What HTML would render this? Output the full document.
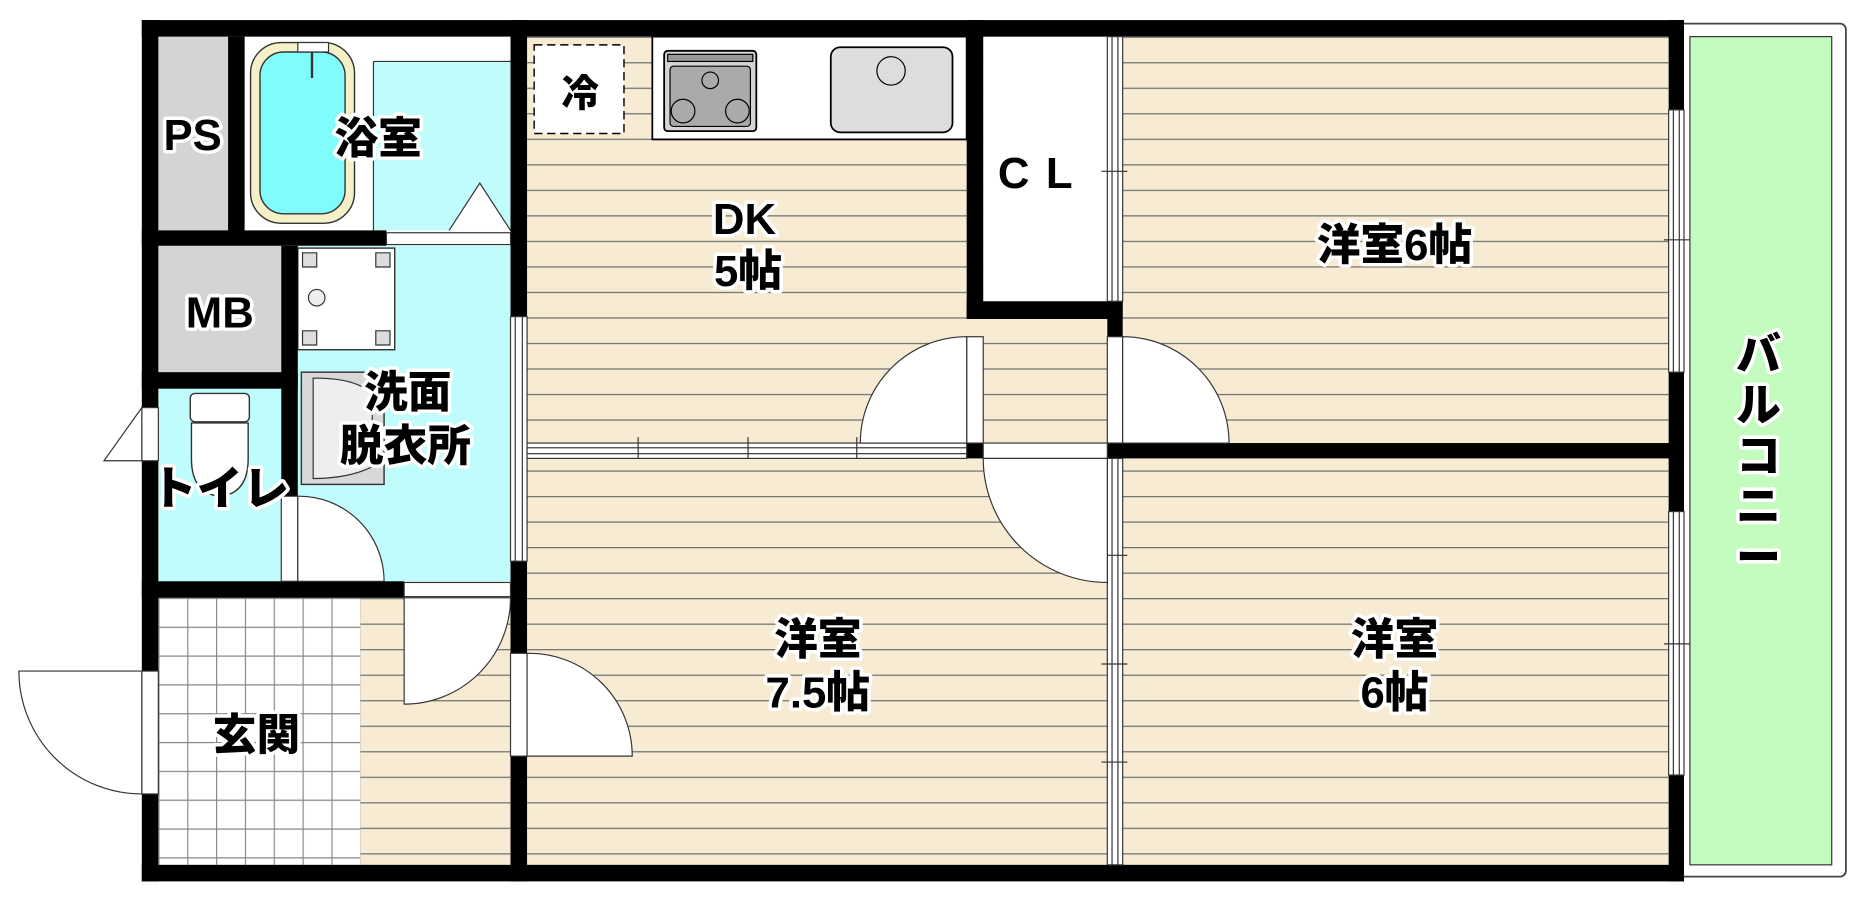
<!DOCTYPE html>
<html><head><meta charset="utf-8"><style>
html,body{margin:0;padding:0;background:#fff;}
svg{display:block}
.t{font-family:"Liberation Sans","Noto Sans CJK JP",sans-serif;font-weight:900;fill:#000;stroke:#fff;stroke-width:6;paint-order:stroke;stroke-linejoin:round;text-anchor:middle}
</style></head><body>
<svg width="1853" height="905" viewBox="0 0 1568 766" preserveAspectRatio="none" xmlns="http://www.w3.org/2000/svg">
<defs>
<pattern id="fl" width="20" height="21.6" patternUnits="userSpaceOnUse" y="31"><rect width="20" height="21.6" fill="#f7ecd3"/><line x1="0" y1="0.5" x2="20" y2="0.5" stroke="#6f6f6f" stroke-width="1"/></pattern>
<pattern id="tl" width="24.4" height="24.4" patternUnits="userSpaceOnUse" x="134" y="506"><rect width="24.4" height="24.4" fill="#fff"/><path d="M0 0.5H24.4M0.5 0V24.4" stroke="#888" stroke-width="1" fill="none"/></pattern>
</defs>
<rect width="1568" height="766" fill="#fff"/>
<rect x="1418" y="20" width="144" height="722" rx="5" fill="#fff" stroke="#444" stroke-width="1.5"/>
<rect x="1430" y="31" width="120" height="701" fill="#c4fcbf" stroke="#333" stroke-width="1"/>
<rect x="446" y="31" width="966" height="701" fill="url(#fl)"/>
<rect x="305" y="506" width="127" height="226" fill="url(#fl)"/>
<rect x="134" y="506" width="171" height="226" fill="url(#tl)"/>
<rect x="134" y="31" width="59" height="164" fill="#d4d4d4"/>
<rect x="207" y="31" width="225" height="164" fill="#fff"/>
<rect x="316" y="52" width="116" height="143" fill="#c0fcfc"/>
<path d="M316 52 V195" stroke="#333" stroke-width="1"/>
<path d="M316 52 H432" stroke="#333" stroke-width="1"/>
<path d="M380 195 L406 155 L432 195" fill="#fff" stroke="#333" stroke-width="1"/>
<rect x="212" y="36" width="88" height="153" rx="26" fill="#f6f0c8" stroke="#333" stroke-width="1.2"/>
<rect x="220" y="44" width="72" height="137" rx="20" fill="#80fcfc" stroke="#333" stroke-width="1.2"/>
<rect x="252" y="36" width="26" height="8" fill="#fff" stroke="#333"/>
<line x1="264" y1="44" x2="264" y2="66" stroke="#333" stroke-width="2"/>
<rect x="134" y="208" width="104" height="107" fill="#d4d4d4"/>
<rect x="252" y="208" width="180" height="284" fill="#c0fcfc"/>
<rect x="252" y="210" width="82" height="86" fill="#fff" stroke="#333" stroke-width="1.2"/>
<path d="M256 214h12v12h-12zM318 214h12v12h-12zM256 280h12v12h-12zM318 280h12v12h-12z" fill="#ddd" stroke="#333" stroke-width="1"/>
<circle cx="268" cy="252" r="7" fill="#eee" stroke="#333"/>
<rect x="255" y="315" width="70" height="95" fill="#d8d8d8" stroke="#333" stroke-width="1.2"/>
<path d="M265 320 q40 0 50 15 v60 q-20 10 -50 10z" fill="#eee" stroke="#333"/>
<rect x="134" y="329" width="104" height="163" fill="#c0fcfc"/>
<rect x="161" y="333" width="50" height="24" rx="4" fill="#fff" stroke="#333" stroke-width="1.2"/>
<path d="M162 358 h48 v30 q0 30 -24 32 q-24 -2 -24 -32z" fill="#fff" stroke="#333" stroke-width="1.2"/>
<rect x="832" y="31" width="105" height="224" fill="#fff"/>
<rect x="552" y="31" width="266" height="87" fill="#fff" stroke="#000" stroke-width="1.5"/>
<rect x="452" y="38" width="76" height="75" fill="#fff" stroke="#000" stroke-width="1.2" stroke-dasharray="7 4"/>
<rect x="562" y="43" width="78" height="68" rx="3" fill="#d4d4d4" stroke="#000" stroke-width="1.5"/>
<rect x="565" y="46" width="72" height="6" fill="#999" stroke="#000"/>
<rect x="567" y="56" width="68" height="51" rx="3" fill="#aaa" stroke="#000"/>
<circle cx="578" cy="94" r="10" fill="#aaa" stroke="#000"/><circle cx="624" cy="94" r="10" fill="#aaa" stroke="#000"/><circle cx="601" cy="68" r="7" fill="#aaa" stroke="#000"/>
<rect x="703" y="40" width="103" height="72" rx="8" fill="#ddd" stroke="#000" stroke-width="1.5"/>
<circle cx="754" cy="60" r="12" fill="#ddd" stroke="#000"/>
<g fill="#000">
<rect x="120" y="17" width="1305" height="14"/>
<rect x="120" y="732" width="1305" height="14"/>
<rect x="120" y="17" width="14" height="729"/>
<rect x="1412" y="17" width="13" height="729"/>
<rect x="193" y="31" width="14" height="170"/>
<rect x="120" y="195" width="207" height="13"/>
<rect x="238" y="208" width="14" height="284"/>
<rect x="120" y="315" width="132" height="14"/>
<rect x="120" y="492" width="222" height="14"/>
<rect x="432" y="17" width="14" height="729"/>
<rect x="818" y="17" width="14" height="253"/>
<rect x="818" y="255" width="132" height="15"/>
<rect x="937" y="255" width="13" height="30"/>
<rect x="937" y="375" width="488" height="13"/>
<rect x="818" y="375" width="14" height="13"/>
</g>
<g fill="#fff" stroke="#333" stroke-width="1">
<rect x="327" y="197" width="105" height="10"/>
<rect x="432" y="268" width="14" height="207"/>
<rect x="436" y="268" width="6" height="207"/>
<rect x="342" y="493" width="90" height="12"/>
<rect x="120" y="345" width="14" height="45"/>
<rect x="120" y="568" width="14" height="104"/>
<rect x="432" y="553" width="14" height="87"/>
<rect x="238" y="420" width="14" height="72"/>
<rect x="818" y="285" width="14" height="90"/>
<rect x="937" y="285" width="13" height="90"/>
<rect x="937" y="31" width="13" height="224"/><rect x="941" y="31" width="5" height="224"/>
<rect x="937" y="388" width="13" height="344"/><rect x="941" y="388" width="5" height="344"/>
<rect x="446" y="375" width="372" height="13"/><rect x="446" y="379" width="372" height="5"/>
<rect x="832" y="375" width="105" height="13"/>
<rect x="1412" y="93" width="13" height="222"/><rect x="1416" y="93" width="5" height="222"/>
<rect x="1412" y="433" width="13" height="223"/><rect x="1416" y="433" width="5" height="223"/>
</g>
<g stroke="#333" stroke-width="1">
<path d="M540 370v18M633 370v18M725 370v18M932 145h22M932 470h22M932 562h22M932 645h22M1408 203h22M1408 545h22"/>
</g>
<g fill="#fff" stroke="#333" stroke-width="1">
<path d="M818 375 V285 A90 90 0 0 0 728 375Z"/>
<path d="M950 375 V285 A90 90 0 0 1 1040 375Z"/>
<path d="M937 388 H832 A105 105 0 0 0 937 493Z"/>
<path d="M446 553 V640 H535 A87 87 0 0 0 446 553Z" />
<path d="M432 506 H342 V596 A90 90 0 0 0 432 506Z"/>
<path d="M252 420 V492 H325 A72 72 0 0 0 252 420Z"/>
<path d="M120 345 V390 H88 Z" />
<path d="M120 568 V672 A104 104 0 0 1 16 568Z"/>
</g>
<g class="t" font-size="37">
<text x="163" y="127">PS</text>
<text x="320" y="130">浴室</text>
<text x="186" y="277">MB</text>
<text x="345" y="345">洗面</text>
<text x="343" y="390">脱衣所</text>
<text x="186" y="427" font-size="39">トイレ</text>
<text x="217" y="635">玄関</text>
<text x="491" y="90" font-size="32">冷</text>
<text x="630" y="198">DK</text>
<text x="633" y="242">5帖</text>
<text x="883" y="159" letter-spacing="14">CL</text>
<text x="1180" y="220">洋室6帖</text>
<text x="692" y="554">洋室</text>
<text x="692" y="599">7.5帖</text>
<text x="1180" y="554">洋室</text>
<text x="1180" y="599">6帖</text>
</g>
<text class="t" font-size="38" transform="translate(1488,283)"><tspan x="0" dy="30">バ</tspan><tspan x="0" dy="43">ル</tspan><tspan x="0" dy="43">コ</tspan><tspan x="0" dy="43">ニ</tspan><tspan x="0" dy="43">ー</tspan></text>
</svg>
</body></html>
